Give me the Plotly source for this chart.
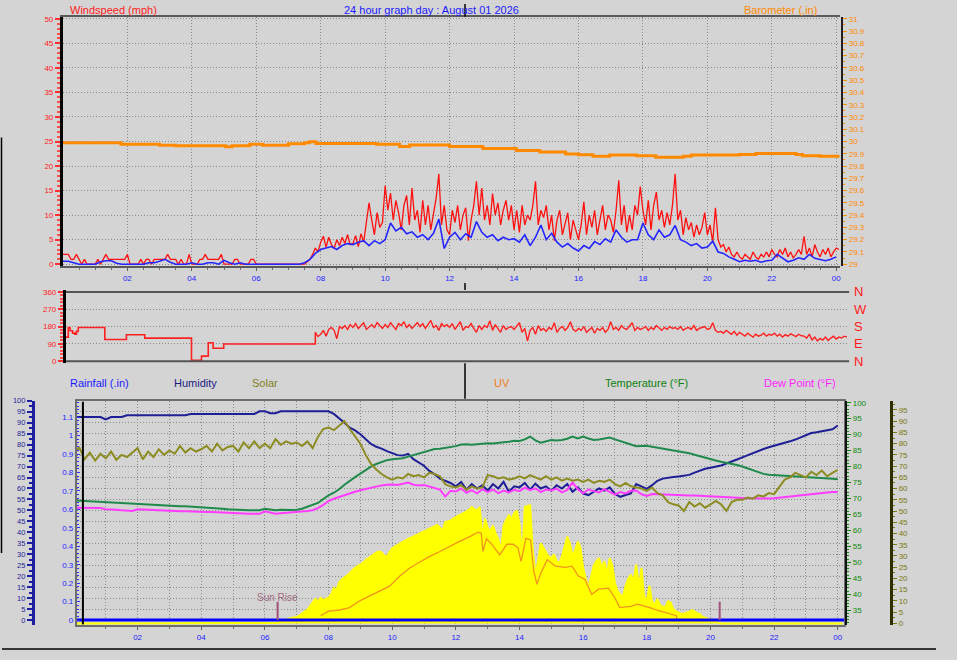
import plotly.graph_objects as go

# ------------------------------------------------------------------ data
# Top panel: wind gust (5-minute samples from 00:00), mph
gust_mph = [
    2, 2, 2, 1, 1, 2, 1, 0, 1, 0, 0, 0,
    0, 1, 0, 1, 2, 1, 1, 1, 1, 1, 1, 1,
    2, 0, 0, 0, 0, 1, 0, 1, 1, 0, 1, 1,
    1, 1, 1, 2, 1, 1, 1, 0, 1, 0, 0, 2,
    0, 0, 0, 1, 1, 2, 1, 1, 1, 1, 1, 2,
    0, 0, 0, 0, 1, 1, 0, 0, 0, 0, 1, 1,
    0, 0, 0, 0, 0, 0, 0, 0, 0, 0, 0, 0,
    0, 0, 0, 0, 0, 0, 0, 0.5, 1, 2, 3.3, 2.5,
    4.5, 5.7, 3.5, 5.5, 4, 3.2, 5, 3.8, 5.5, 4.2, 6, 4,
    4.2, 5.8, 3.6, 6.2, 4.5, 8.5, 12.5, 9, 6, 10.5, 7.5, 8.5,
    16, 11, 14.5, 9, 13, 10.5, 7, 12, 14, 8, 15.5, 9,
    11, 6.5, 13, 8, 12, 7, 10, 13.5, 18.4, 8, 12, 7,
    6, 11, 8.5, 12, 7, 10, 11.5, 4.8, 9, 12, 16.9, 10,
    15.5, 9, 12, 8, 14.4, 10, 12.5, 8, 11, 13, 9, 12,
    7, 11, 6.5, 12, 8, 10, 9, 12, 16.9, 8, 11, 9.5,
    12, 7, 10, 4.8, 9, 11, 6, 8, 10.5, 5, 9, 7,
    5, 8, 12.7, 6, 10, 7.5, 11, 6, 9, 12, 7, 10,
    9, 6.5, 11, 17.1, 8, 12, 6.5, 10, 7, 12, 10, 15.8,
    11, 8, 13, 7, 12, 14.7, 9, 11, 7.5, 10.5, 8, 12,
    18.4, 9, 11, 6, 9.5, 7, 8.5, 5.5, 8, 6, 7.5, 10.5,
    6, 8, 4.5, 11.5, 5, 3.5, 4, 2.5, 3.5, 2, 1.5, 2.5,
    1.5, 1, 2, 1.5, 1, 2.5, 1.5, 1, 2, 1.5, 2.5, 1.5,
    3, 2, 1.5, 3, 2, 3.3, 1.5, 2.5, 1.3, 2, 3, 2,
    5.7, 2, 3.3, 1.5, 4, 2.5, 1.5, 3, 2, 3.3, 1.5, 2.5,
    3.3, 3,
]
# average wind speed (10-minute samples), mph
wind_avg_mph = [
    0.6, 0.6, 0.3, 0, 0, 0,
    0, 0.5, 0.7, 0.7, 0.2, 0,
    0, 0, 0, 0, 0.3, 0.3,
    0.6, 1, 0.4, 0, 0, 0,
    0.3, 0, 0, 0.3, 0.3, 0,
    0.8, 0.3, 0, 0.3, 0, 0,
    0, 0, 0, 0, 0, 0,
    0, 0, 0, 0.3, 1, 2.2,
    3, 3.3, 3.6, 3, 3.8, 4.2,
    4, 4.5, 4.8, 3.8, 4.8, 4.2,
    5, 8.4, 6.8, 7.5, 6.2, 6.6,
    5.5, 6, 5, 6.3, 9.2, 3.2,
    5.5, 6.5, 5, 6.2, 5.5, 8.7,
    6.5, 5.5, 6, 4.8, 5.5, 5,
    5.2, 4.5, 6, 3.8, 5.5, 8,
    5, 6.3, 4.5, 3.5, 4.2, 3.3,
    2.7, 3.8, 3.2, 4.6, 4, 5.2,
    4.5, 7, 5.5, 4.5, 5, 5,
    8.4, 6, 5, 7, 5.5, 6,
    7.9, 5, 4.5, 3.8, 4.2, 3.3,
    3.5, 4.7, 2.5, 2.2, 1.5, 1,
    0.5, 0.8, 0.6, 0.8, 0.4, 0.7,
    0.8, 2, 1.2, 0.5, 0.8, 1.3,
    1, 2, 1.2, 1, 0.7, 1,
    1.5,
]
# barometer (step changes), inches
baro_hours = [0, 1.8, 3.0, 3.5, 5.05, 5.25, 5.8, 6.2, 7.0, 7.5, 7.65, 7.85,
              9.73, 10.45, 10.76, 12.0, 13.03, 14.07, 14.8, 15.6, 16.0, 16.45,
              16.97, 17.8, 18.4, 19.25, 19.5, 21.0, 21.5, 22.75, 22.95, 23.5, 24.1]
baro_in = [29.99, 29.978, 29.97, 29.966, 29.958, 29.966, 29.978, 29.97, 29.982,
           29.99, 29.998, 29.984, 29.978, 29.96, 29.972, 29.96, 29.944, 29.927,
           29.914, 29.898, 29.893, 29.879, 29.89, 29.885, 29.871, 29.879, 29.89,
           29.895, 29.903, 29.895, 29.885, 29.879, 29.879]

# Middle panel: wind direction, degrees
dir_step_hours = [0.09, 0.165, 0.22, 0.3, 0.37, 0.42, 0.475, 1.3, 1.97, 2.54,
                  3.99, 4.3, 4.51, 4.66, 4.99, 7.8333]
dir_step_deg = [125, 175, 158, 146, 140, 155, 175, 113, 137, 120, 5, 26, 96, 67, 89, 150]
DIR_START_H = 7.8333      # start of 5-minute direction samples
dir_deg = [
    150, 128,
    140, 160, 130, 165, 175, 160, 117, 180, 170, 185, 165, 190,
    175, 195, 170, 185, 200, 165, 180, 190, 175, 200, 185, 170,
    190, 175, 200, 180, 165, 195, 185, 205, 175, 190, 170, 185,
    200, 180, 195, 170, 190, 212, 175, 185, 160, 195, 180, 190,
    175, 195, 165, 185, 205, 160, 180, 175, 195, 170, 150, 185,
    165, 185, 175, 210, 160, 190, 170, 150, 185, 165, 175, 180,
    165, 180, 200, 150, 170, 105, 160, 175, 140, 185, 160, 170,
    155, 175, 165, 200, 150, 170, 180, 160, 175, 205, 165, 155,
    170, 160, 180, 150, 165, 175, 145, 170, 160, 175, 150, 165,
    205, 165, 175, 160, 185, 170, 165, 180, 200, 160, 175, 165,
    170, 180, 160, 175, 165, 185, 170, 160, 175, 165, 180, 170,
    175, 165, 180, 160, 170, 175, 165, 185, 160, 170, 175, 180,
    165, 170, 200, 160, 150, 155, 145, 160, 150, 140, 155, 135,
    150, 140, 130, 145, 135, 125, 140, 130, 135, 145, 130, 140,
    135, 145, 130, 140, 125, 138, 130, 142, 135, 128, 140, 132,
    130, 120, 140, 110, 125, 105, 118, 110, 125, 108, 120, 130,
    115, 125, 120, 130, 125,
]

# Bottom panel (10-minute samples from 00:00)
hum_pct = [
    92.6, 92.6, 92.6, 92.6, 92.6, 92.6,
    91.5, 92.6, 92.6, 92.6, 93.4, 93.4,
    93.4, 93.4, 93.4, 93.4, 93.4, 93.4,
    93.4, 93.4, 93.4, 93.4, 94, 94,
    94, 94, 94, 94, 94, 94,
    94, 94, 94, 94, 94, 95.2,
    95.2, 94.3, 94.3, 95.2, 95.2, 95.2,
    95.2, 95.2, 95.2, 95.2, 95.2, 95.2,
    95.2, 94, 92.2, 90, 87.7, 86.5,
    84.7, 82.5, 80.3, 79, 78.2, 77,
    76, 75.2, 75, 75.8, 73.4, 72,
    70.4, 68, 66.5, 64.5, 63.5, 62.5,
    61, 63, 59.5, 62, 60, 61.5,
    59, 62, 60, 63, 58.5, 61,
    60.5, 62.5, 59.5, 62.2, 60, 61,
    59, 61.5, 60, 62, 58.5, 60.5,
    57.7, 57, 58.5, 60, 59, 60.5,
    57.5, 56.2, 57, 57.7, 62, 61,
    59.8, 61.5, 63.5, 64.5, 65, 65.2,
    65.5, 66, 66.2, 67.2, 68.2, 69,
    69.5, 70, 70.5, 71.4, 72.2, 73.2,
    74.2, 75.2, 76.2, 77.2, 78, 78.8,
    79.4, 80, 80.8, 81.5, 82.3, 83.2,
    84.2, 85.3, 85.6, 86, 86.3, 87,
    88.7,
]
temp_f = [
    69.4, 69.3, 69.2, 69.1, 69.0, 68.9,
    68.9, 68.8, 68.7, 68.6, 68.5, 68.3,
    68.2, 68.2, 68.1, 68.0, 67.9, 67.8,
    67.7, 67.7, 67.6, 67.6, 67.5, 67.5,
    67.4, 67.3, 67.2, 67.0, 66.8, 66.6,
    66.6, 66.5, 66.4, 66.3, 66.3, 66.3,
    66.8, 66.5, 66.3, 66.5, 66.4, 66.4,
    66.5, 66.8, 67.4, 67.9, 68.6, 69.8,
    71.0, 71.8, 72.9, 74.3, 75.6, 76.7,
    77.8, 78.9, 80.0, 80.8, 81.5, 82.0,
    82.3, 82.4, 82.6, 83.1, 83.6, 84.1,
    84.6, 85.1, 85.5, 85.6, 85.8, 86.1,
    86.4, 86.9, 87.0, 86.8, 87.0, 87.3,
    87.3, 87.2, 87.5, 87.6, 87.8, 88.1,
    88.0, 88.5, 89.4, 88.2, 87.5, 88.0,
    88.3, 88.2, 88.3, 88.7, 89.4, 88.8,
    89.4, 88.8, 88.3, 88.5, 88.8, 89.1,
    88.5, 87.9, 87.3, 86.9, 86.4, 86.4,
    86.5, 86.2, 85.9, 85.7, 85.4, 85.1,
    84.9, 84.6, 84.2, 83.7, 83.2, 82.8,
    82.3, 81.9, 81.5, 81.2, 80.9, 80.5,
    80.0, 79.4, 78.7, 78.2, 77.7, 77.4,
    77.3, 77.2, 77.2, 77.1, 77.1, 77.0,
    76.9, 76.8, 76.7, 76.6, 76.4, 76.2,
    76.0,
]
dew_f = [
    67.1, 67.1, 67.1, 67.1, 67.1, 67.0,
    66.6, 66.6, 66.5, 66.3, 66.1, 66.1,
    66.6, 66.5, 66.5, 66.3, 66.2, 66.1,
    66.1, 66.1, 66.0, 66.0, 65.9, 65.9,
    65.8, 65.8, 65.8, 65.7, 65.6, 65.5,
    65.4, 65.2, 65.2, 65.2, 65.2, 65.2,
    66.0, 65.6, 65.2, 65.4, 65.5, 65.6,
    65.7, 65.9, 66.1, 66.3, 67.0, 68.0,
    69.2, 69.9, 70.5, 71.0, 71.5, 72.1,
    72.6, 73.0, 73.4, 73.8, 74.1, 74.3,
    74.4, 74.2, 74.6, 75.0, 74.3, 74.1,
    74.2, 73.7, 73.4, 72.8, 70.6, 72.4,
    72.2, 73.1, 71.8, 72.6, 71.6, 72.9,
    72.0, 72.8, 71.7, 72.5, 71.9, 72.7,
    72.3, 73.4, 72.6, 73.2, 72.0, 72.8,
    72.5, 73.1, 71.9, 72.7, 75.0, 72.9,
    71.6, 72.8, 72.3, 71.9, 72.9, 72.1,
    71.2, 72.0, 71.6, 72.4, 72.5, 71.3,
    70.8, 71.4, 71.3, 71.2, 71.2, 71.1,
    71.0, 71.0, 70.9, 70.9, 70.8, 70.8,
    70.7, 70.6, 70.5, 70.4, 70.3, 70.2,
    70.2, 70.1, 70.1, 70.0, 70.0, 70.0,
    70.1, 70.3, 70.5, 70.7, 70.9, 71.1,
    71.3, 71.5, 71.7, 71.8, 71.9, 72.0,
    72.0,
]
solar_line = [   # olive "Solar" line, right-hand 0-100 scale
    75, 78.5, 73, 76, 72.5, 75.5,
    73.5, 76.5, 72.8, 75, 74, 76,
    78, 73, 76.5, 74, 77.5, 75,
    77, 75.5, 79, 76, 78, 76.5,
    77.5, 79, 76.5, 80, 77, 78.5,
    79, 76.5, 80.5, 78, 81, 78,
    80, 78, 82, 79.5, 81, 80,
    80.5, 79, 81, 78, 83, 86.5,
    87.2, 86, 88, 90, 86.5, 83.5,
    80, 75, 71, 68.5, 66.5, 65,
    64, 65, 64.5, 66.5, 65.5, 66,
    65, 67, 66.5, 65.5, 62, 61,
    60.5, 61.5, 59.5, 61, 60, 60.5,
    66, 65.5, 64.5, 65, 64, 64.5,
    65.5, 64.5, 66, 65, 64, 65.5,
    64, 65, 63.5, 64.5, 63.5, 64,
    63, 64, 62.5, 63.5, 63, 64,
    62, 61, 62.5, 61, 60.5, 60,
    59, 60.5, 58, 57, 54, 53,
    52.5, 50, 54, 52, 53.5, 51.5,
    53, 54.5, 53, 50, 54, 55,
    55, 56, 55.5, 57, 56.5, 58,
    57.5, 60.5, 64, 65, 67, 66,
    65, 67.5, 66, 68, 65.5, 67,
    68.3,
]
# solar radiation fill (5-minute samples from 06:00), W/m2
SOLAR_START_H = 6.0
solar_wm2 = [
    0, 0, 0, 0, 0, 3, 10, 15, 20, 22, 25, 27,
    30, 35, 45, 55, 60, 75, 95, 110, 100, 115, 105, 112,
    116, 130, 160, 150, 185, 198, 205, 215, 227, 240, 250, 258,
    264, 272, 285, 294, 300, 308, 318, 324, 320, 305, 301, 320,
    338, 345, 352, 360, 368, 372, 380, 385, 390, 398, 403, 408,
    414, 420, 427, 432, 438, 442, 430, 415, 455, 458, 462, 470,
    479, 485, 490, 496, 501, 510, 523, 515, 505, 523, 383, 470,
    430, 414, 440, 405, 380, 325, 440, 465, 486, 470, 495, 508,
    450, 294, 523, 528, 531, 330, 213, 280, 360, 340, 320, 300,
    294, 310, 280, 270, 300, 340, 390, 360, 300, 330, 368, 340,
    250, 200, 161, 210, 260, 280, 294, 250, 280, 220, 294, 260,
    180, 146, 130, 120, 170, 200, 220, 190, 264, 161, 250, 120,
    102, 170, 95, 85, 110, 80, 75, 72, 100, 95, 65, 55,
    50, 42, 45, 48, 52, 60, 55, 45, 42, 30, 25, 20,
    18, 16, 8, 3, 0, 0,
]
uv_hours = [7.75, 8.0, 8.35, 8.66, 8.98, 9.29, 9.6, 9.92, 10.24, 10.55, 10.87,
            11.18, 11.5, 11.8, 12.1, 12.44, 12.7, 12.8, 12.85, 12.96, 13.1, 13.38,
            13.6, 13.8, 13.95, 14.05, 14.2, 14.35, 14.45, 14.55, 14.66, 14.87,
            15.13, 15.44, 15.65, 15.85, 16.06, 16.27, 16.48, 16.8, 17.0, 17.15,
            17.5, 17.7, 17.88, 18.1, 18.3, 18.6, 18.93, 18.95]
uv_index = [0.19, 0.4, 0.45, 0.56, 0.87, 1.09, 1.32, 1.54, 2.0, 2.37, 2.64, 2.9,
            3.12, 3.35, 3.57, 3.8, 4.0, 3.95, 3.12, 3.7, 3.5, 2.97, 3.45, 3.45,
            3.3, 2.67, 3.72, 3.65, 2.22, 1.62, 2.1, 2.74, 2.45, 2.4, 2.45, 2.0,
            1.84, 1.16, 1.4, 1.45, 1.0, 0.56, 0.62, 0.72, 0.65, 0.56, 0.45, 0.34,
            0.19, 0]
rain_hours = [0, 6, 12, 18, 24.2]
rain_in = [0, 0, 0, 0, 0]
sun_events_h = [6.4, 20.29]        # sunrise, sunset
SUN_MARK_IN = 0.1                  # height of the sun event marks

hour_ticks = list(range(2, 25, 2))
hour_labels = ["02", "04", "06", "08", "10", "12", "14", "16", "18", "20", "22", "00"]

# ------------------------------------------------------------------ helpers
W, H = 957, 660
BG = "#d4d4d4"
GRID = "#8a8a8a"
GDASH = "1px,2px"
FONT = "Liberation Sans"


def px(x):
    return x / W


def py(y):
    return 1 - y / H


gust_h = [i / 12 for i in range(len(gust_mph))]
avg_h = [i / 6 for i in range(len(wind_avg_mph))]
dir_h = [DIR_START_H + i / 12 for i in range(len(dir_deg))]
t10 = [i / 6 for i in range(len(hum_pct))]
solar_h = [0] + [SOLAR_START_H + i / 12 for i in range(len(solar_wm2))] + [24.15]
solar_v = [0] + solar_wm2 + [0]

fig = go.Figure()
# top panel
fig.add_trace(go.Scatter(x=gust_h, y=gust_mph, mode="lines", line=dict(color="#ff1010", width=1.3), xaxis="x", yaxis="y"))
fig.add_trace(go.Scatter(x=avg_h, y=wind_avg_mph, mode="lines", line=dict(color="#2525ff", width=1.6), xaxis="x", yaxis="y"))
fig.add_trace(go.Scatter(x=baro_hours, y=baro_in, mode="lines", line=dict(color="#ff8a00", width=3, shape="hv"), xaxis="x", yaxis="y2"))
# middle panel
fig.add_trace(go.Scatter(x=dir_step_hours, y=dir_step_deg, mode="lines", line=dict(color="#ff2020", width=1.6, shape="hv"), xaxis="x2", yaxis="y3"))
fig.add_trace(go.Scatter(x=dir_h, y=dir_deg, mode="lines", line=dict(color="#ff2020", width=1.4), xaxis="x2", yaxis="y3"))
# bottom panel
fig.add_trace(go.Scatter(x=solar_h, y=solar_v, mode="lines", fill="tozeroy", fillcolor="#ffff00", line=dict(color="#ffff00", width=2), xaxis="x3", yaxis="y4"))
fig.add_trace(go.Scatter(x=uv_hours, y=uv_index, mode="lines", line=dict(color="#f0941e", width=1.3), xaxis="x3", yaxis="y5"))
fig.add_trace(go.Scatter(x=rain_hours, y=rain_in, mode="lines", line=dict(color="#0000ff", width=3), xaxis="x3", yaxis="y6"))
for sh in sun_events_h:
    fig.add_trace(go.Scatter(x=[sh, sh], y=[0, SUN_MARK_IN], mode="lines", line=dict(color="#a0507a", width=2), xaxis="x3", yaxis="y6"))
fig.add_trace(go.Scatter(x=t10, y=hum_pct, mode="lines", line=dict(color="#1e1e96", width=2), xaxis="x3", yaxis="y7"))
fig.add_trace(go.Scatter(x=t10, y=temp_f, mode="lines", line=dict(color="#1f8a4c", width=2), xaxis="x3", yaxis="y8"))
fig.add_trace(go.Scatter(x=t10, y=dew_f, mode="lines", line=dict(color="#ff3cff", width=2), xaxis="x3", yaxis="y8"))
fig.add_trace(go.Scatter(x=t10, y=solar_line, mode="lines", line=dict(color="#8c8c23", width=2), xaxis="x3", yaxis="y9"))

tf = lambda c, s=8: dict(family=FONT, size=s, color=c)

baro_ticks = [round(29 + i * 0.1, 1) for i in range(21)]
layout = dict(
    width=W, height=H, margin=dict(l=0, r=0, t=0, b=0),
    paper_bgcolor=BG, plot_bgcolor=BG, showlegend=False,
    font=dict(family=FONT), hovermode=False,
    xaxis=dict(domain=[px(63), px(841)], range=[0, 24.12], anchor="y",
               tickmode="array", tickvals=hour_ticks, ticktext=hour_labels, tickfont=tf("#2323ff"),
               ticks="outside", ticklen=3, tickcolor="#606060",
               minor=dict(tickvals=[i * 0.5 for i in range(1, 49) if i % 4], ticks="outside", ticklen=2, tickcolor="#707070", showgrid=False),
               showgrid=True, gridcolor=GRID, griddash=GDASH, showline=True, linecolor="#5a5a5a", linewidth=2,
               mirror=True, zeroline=False),
    yaxis=dict(domain=[py(265), py(13)], range=[-0.4, 50.4], anchor="x",
               tickmode="array", tickvals=list(range(0, 51, 5)), tickfont=tf("#ff2020"),
               ticks="outside", ticklen=5, tickwidth=2, tickcolor="#ff3030",
               minor=dict(tickvals=[i for i in range(51) if i % 5], ticks="outside", ticklen=3, tickcolor="#ff5050", showgrid=False),
               showgrid=True, gridcolor=GRID, griddash=GDASH, showline=True, linecolor="black", linewidth=3, zeroline=False),
    yaxis2=dict(overlaying="y", anchor="free", position=px(843), side="right", range=[28.984, 31.016],
                tickmode="array", tickvals=baro_ticks, ticktext=[f"{v:g}" for v in baro_ticks], tickfont=tf("#ff8a00"),
                ticks="outside", ticklen=4, tickcolor="#ff8a00",
                minor=dict(tickvals=[round(29.05 + i * 0.1, 2) for i in range(20)], ticks="outside", ticklen=2, tickcolor="#ff8a00", showgrid=False),
                showgrid=False, showline=True, linecolor="#202020", linewidth=2, zeroline=False),
    xaxis2=dict(domain=[px(66), px(850)], range=[0.093, 24.40], anchor="y3", visible=False),
    yaxis3=dict(domain=[py(363), py(289)], range=[-10.3, 370.3], anchor="x2",
                tickmode="array", tickvals=[0, 90, 180, 270, 360], tickfont=tf("#ff2020"),
                ticks="outside", ticklen=5, tickwidth=2, tickcolor="#ff3030",
                minor=dict(tickvals=[i * 18 for i in range(21) if i % 5], ticks="outside", ticklen=3, tickcolor="#ff5050", showgrid=False),
                showgrid=True, gridcolor=GRID, griddash=GDASH, showline=True, linecolor="black", linewidth=3, zeroline=False),
    xaxis3=dict(domain=[px(77), px(845)], range=[0.094, 24.2], anchor="y4",
                tickmode="array", tickvals=hour_ticks, ticktext=hour_labels, tickfont=tf("#2323ff"),
                ticks="outside", ticklen=3, tickcolor="#606060",
                minor=dict(tickvals=list(range(1, 25, 2)), ticks="outside", ticklen=2, tickcolor="#707070",
                           showgrid=True, gridcolor=GRID, griddash=GDASH),
                showgrid=True, gridcolor=GRID, griddash=GDASH, showline=True, linecolor="#6e6e6e", linewidth=2,
                mirror=True, zeroline=False),
    yaxis4=dict(domain=[py(628), py(401)], range=[-8, 1000], anchor="x3", visible=False),
    yaxis5=dict(overlaying="y4", range=[-0.25, 10], visible=False),
    yaxis6=dict(overlaying="y4", anchor="x3", side="left", range=[-0.0284, 1.189],
                tickmode="array", tickvals=[i / 10 for i in range(12)], ticktext=[f"{i / 10:g}" for i in range(12)],
                tickfont=tf("#2323ff"), ticks="inside", ticklen=3, tickcolor="#3030ff",
                minor=dict(tickvals=[i / 50 for i in range(60) if i % 5], ticks="inside", ticklen=2, tickcolor="#3030ff", showgrid=False),
                showgrid=False, showline=True, linecolor="#6e6e6e", linewidth=2, mirror=True, zeroline=False),
    yaxis7=dict(overlaying="y4", anchor="free", position=px(33), side="left", range=[-2.4, 100],
                tickmode="array", tickvals=list(range(0, 101, 5)), tickfont=tf("#1e1e96", 7.5),
                ticks="outside", ticklen=5, tickwidth=2, tickcolor="#1e1ea0",
                minor=dict(tickvals=[i * 2.5 for i in range(40) if i % 2], ticks="outside", ticklen=3, tickcolor="#1e1ea0", showgrid=False),
                showgrid=True, gridcolor=GRID, griddash=GDASH, showline=True, linecolor="#1e1ea0", linewidth=3, zeroline=False),
    yaxis8=dict(overlaying="y4", anchor="free", position=px(847), side="right", range=[30.25, 100.62],
                tickmode="array", tickvals=list(range(35, 101, 5)), tickfont=tf("#0c8a0c"),
                ticks="outside", ticklen=4, tickcolor="#0c8a0c",
                minor=dict(tickvals=[i for i in range(31, 101) if i % 5], ticks="outside", ticklen=2, tickcolor="#0c8a0c", showgrid=False),
                showgrid=False, showline=True, linecolor="#101010", linewidth=2, zeroline=False),
    yaxis9=dict(overlaying="y4", anchor="free", position=px(892), side="right", range=[-0.88, 99.1],
                tickmode="array", tickvals=list(range(0, 100, 5)), tickfont=tf("#7a7a10"),
                ticks="outside", ticklen=4, tickcolor="#7a7a10",
                minor=dict(tickvals=[i * 2.5 for i in range(40) if i % 2], ticks="outside", ticklen=2, tickcolor="#7a7a10", showgrid=False),
                showgrid=False, showline=True, linecolor="#2e2e00", linewidth=3, zeroline=False),
)
fig.update_layout(**layout)

ann = []


def label(text, x, y, color, size=11, xanchor="center"):
    ann.append(dict(text=text, x=px(x), y=py(y), xref="paper", yref="paper", showarrow=False,
                    xanchor=xanchor, yanchor="middle", font=dict(family=FONT, size=size, color=color)))


label("Windspeed (mph)", 68, 6, "#ff1a1a", xanchor="left")
label("24 hour graph day : August 01 2026", 432, 6, "#1a1aff")
label("Barometer (.in)", 781, 6, "#ff8a00")
label("Rainfall (.in)", 100, 383, "#1a1aff")
label("Humidity", 196, 383, "#1a1a80")
label("Solar", 265, 383, "#7f7f1f")
label("UV", 503, 383, "#f08020")
label("Temperature (°F)", 647, 383, "#108010")
label("Dew Point (°F)", 801, 383, "#ff22ff")
for deg, letter in zip([360, 270, 180, 90, 0], ["N", "W", "S", "E", "N"]):
    ann.append(dict(text=letter, x=px(853), y=deg, xref="paper", yref="y3", showarrow=False,
                    xanchor="left", yanchor="middle", font=dict(family=FONT, size=13, color="#ff1a1a")))
ann.append(dict(text="Sun Rise", x=sun_events_h[0], y=0.122, xref="x3", yref="y6", showarrow=False,
                xanchor="center", yanchor="middle", font=dict(family=FONT, size=10, color="#a06a80")))

shapes = []
for v in (0, 360):
    shapes.append(dict(type="line", xref="x2 domain", yref="y3", x0=0, x1=1, y0=v, y1=v,
                       line=dict(color="#555555", width=2)))
for y0, y1 in ((0, 13), (282, 289), (363, 399)):
    shapes.append(dict(type="line", xref="paper", yref="paper", x0=px(465.5), x1=px(465.5), y0=py(y0), y1=py(y1),
                       line=dict(color="black", width=1.5)))
shapes.append(dict(type="line", xref="paper", yref="paper", x0=px(83), x1=px(83), y0=py(402), y1=py(627),
                   line=dict(color="black", width=2)))
shapes.append(dict(type="line", xref="paper", yref="paper", x0=px(1.5), x1=px(1.5), y0=py(135), y1=py(555),
                   line=dict(color="black", width=1.5)))
shapes.append(dict(type="line", xref="paper", yref="paper", x0=px(2), x1=px(937), y0=py(652), y1=py(652),
                   line=dict(color="black", width=1.5)))

fig.update_layout(annotations=ann, shapes=shapes)
fig.write_html("out.html", config={"displayModeBar": False},
               post_script="document.body.style.margin='0';document.body.style.overflow='hidden';")
